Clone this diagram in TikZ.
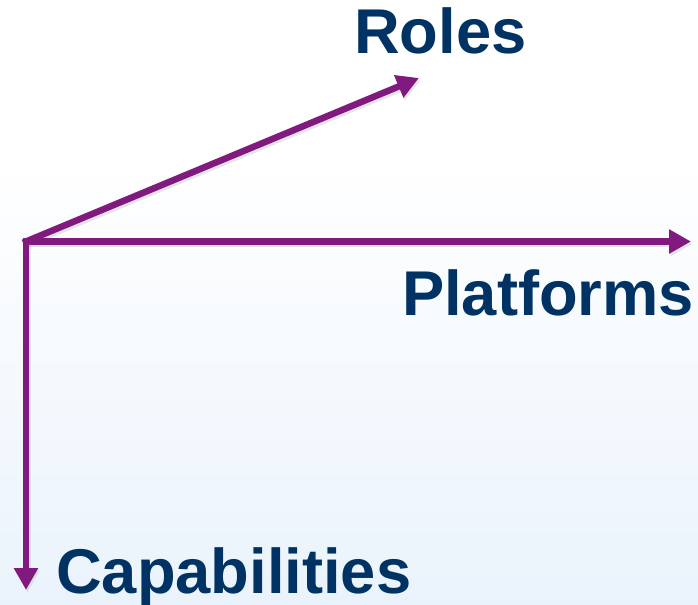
\documentclass[tikz,border=0pt]{standalone}
\usepackage{xcolor}
\usepackage{fontspec}
\usepackage{tikz}
\usetikzlibrary{arrows.meta}
\usetikzlibrary{positioning}
\setmainfont{Liberation Sans}

\definecolor{axispurple}{RGB}{128,26,126}
\definecolor{labelnavy}{RGB}{0,50,100}
\definecolor{bgblue}{RGB}{234,243,252}

\tikzset{
    axis/.style={axispurple, line width=6.5bp, line cap=rect,
        -{Triangle[length=22bp, width=23bp]},
        preaction={draw=black!40, opacity=0.25, line width=6.5bp,
            transform canvas={shift={(1.5bp,-2.5bp)}}}},
    axislabel/.style={labelnavy, font=\fontsize{63.5}{63.5}\selectfont\bfseries,
        inner sep=0pt, anchor=base west}
}

\begin{document}
\begin{tikzpicture}[x=1bp, y=-1bp]
    % Background
    \fill[white] (0,0) rectangle (698,160);
    \shade[top color=white, bottom color=bgblue] (0,160) rectangle (698,605);
    \useasboundingbox (0,0) rectangle (698,605);

    % Origin and arrow tips
    \coordinate (origin) at (26,241.5);
    \coordinate (rolesTip) at (419,78);
    \coordinate (platformsTip) at (691,241.5);
    \coordinate (capabilitiesTip) at (26,590);

    % Axes
    \draw[axis] (origin) -- (rolesTip);
    \draw[axis] (origin) -- (platformsTip);
    \draw[axis] (origin) -- (capabilitiesTip);

    % Labels
    \node[axislabel] (roles) at (354,54) {Roles};
    \node[axislabel] (platforms) at (402,315) {Platforms};
    \node[axislabel] (capabilities) at (56,593) {Capabilities};
\end{tikzpicture}
\end{document}
